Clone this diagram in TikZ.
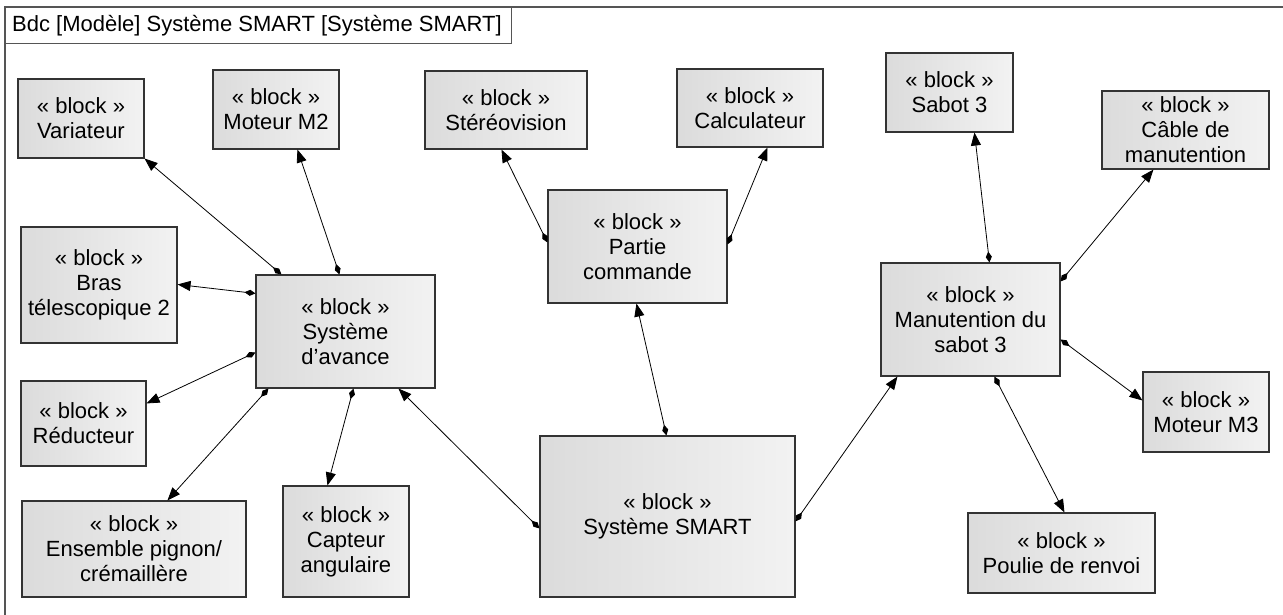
\documentclass[tikz,border=0pt]{standalone}
\usepackage{fontspec}
\setmainfont{Liberation Sans}
\usetikzlibrary{arrows.meta}
\definecolor{frameg}{HTML}{555555}
\definecolor{boxline}{HTML}{333333}
\tikzset{
  blk/.style={draw=boxline, line width=1.1pt, left color=black!14, right color=black!5,
    align=center, inner sep=2pt, font=\fontsize{22}{25}\selectfont, text=black},
  conn/.style={draw=black, line width=0.8pt,
    {Diamond[length=11pt,width=6pt]}-{Triangle[length=13pt,width=10pt]}},
}
\begin{document}
\begin{tikzpicture}[x=1pt,y=-1pt]
\useasboundingbox (0,0) rectangle (1283,615);
\fill[white] (0,0) rectangle (1283,615);
% frame
\draw[frameg, line width=1.4pt] (5,615) -- (5,7) -- (1283,7);
\node[draw=frameg, line width=1.2pt, fill=white, anchor=north west, minimum width=506, minimum height=36,
  inner sep=0pt] (title) at (5,7) {};
\node[anchor=west, inner sep=0pt, font=\fontsize{22}{25}\selectfont] (titletext) at ([xshift=7pt]title.west)
  {Bdc [Modèle] Système SMART [Système SMART]};
% blocks
\node[blk, minimum width=126, minimum height=79] (var) at (81,118.5) {« block »\\Variateur};
\node[blk, minimum width=126, minimum height=79] (m2) at (276,109.5) {« block »\\Moteur M2};
\node[blk, minimum width=162, minimum height=78] (stereo) at (506,110) {« block »\\Stéréovision};
\node[blk, minimum width=146, minimum height=78] (calc) at (750,108) {« block »\\Calculateur};
\node[blk, minimum width=127, minimum height=79] (sabot) at (949.5,92.5) {« block »\\Sabot 3};
\node[blk, minimum width=167, minimum height=78] (cable) at (1185.5,130) {« block »\\Câble de\\manutention};
\node[blk, minimum width=179, minimum height=113] (pc) at (637.5,246.5) {« block »\\Partie\\commande};
\node[blk, minimum width=156, minimum height=116] (bras) at (99,285) {« block »\\Bras\\télescopique 2};
\node[blk, minimum width=179, minimum height=113] (avance) at (345.5,331.5) {« block »\\Système\\d'avance};
\node[blk, minimum width=179, minimum height=113] (manut) at (970.5,319.5) {« block »\\Manutention du\\sabot 3};
\node[blk, minimum width=125, minimum height=85] (reduc) at (83.5,423.5) {« block »\\Réducteur};
\node[blk, minimum width=126, minimum height=80] (m3) at (1206,412) {« block »\\Moteur M3};
\node[blk, minimum width=224, minimum height=96] (ens) at (134,549) {« block »\\Ensemble pignon/\\crémaillère};
\node[blk, minimum width=126, minimum height=111] (capt) at (346,541.5) {« block »\\Capteur\\angulaire};
\node[blk, minimum width=255, minimum height=161] (smart) at (667.5,516.5) {« block »\\Système SMART};
\node[blk, minimum width=187, minimum height=80] (poulie) at (1061.5,553) {« block »\\Poulie de renvoi};
% connectors (diamond at the whole, arrow at the part)
\draw[conn] ([xshift=26pt]avance.north west) -- (var.south east);
\draw[conn] ([xshift=84pt]avance.north west) -- ([xshift=85pt]m2.south west);
\draw[conn] ([yshift=-19pt]avance.north west) -- ([yshift=-58pt]bras.north east);
\draw[conn] ([yshift=-78pt]avance.north west) -- ([yshift=-23pt]reduc.north east);
\draw[conn] ([xshift=13pt]avance.south west) -- ([xshift=146pt]ens.north west);
\draw[conn] ([xshift=98pt]avance.south west) -- ([xshift=45pt]capt.north west);
\draw[conn] ([yshift=-93pt]smart.north west) -- ([xshift=143pt]avance.south west);
\draw[conn] ([xshift=127pt]smart.north west) -- ([xshift=89pt]pc.south west);
\draw[conn] ([yshift=-86pt]smart.north east) -- ([xshift=17pt]manut.south west);
\draw[conn] ([yshift=-53pt]pc.north west) -- ([xshift=77pt]stereo.south west);
\draw[conn] ([yshift=-55pt]pc.north east) -- ([xshift=91pt]calc.south west);
\draw[conn] ([xshift=109pt]manut.north west) -- ([xshift=89pt]sabot.south west);
\draw[conn] ([yshift=-19pt]manut.north east) -- ([xshift=52pt]cable.south west);
\draw[conn] ([yshift=-77pt]manut.north east) -- ([yshift=-29pt]m3.north west);
\draw[conn] ([xshift=114pt]manut.south west) -- ([xshift=97pt]poulie.north west);
\end{tikzpicture}
\end{document}
